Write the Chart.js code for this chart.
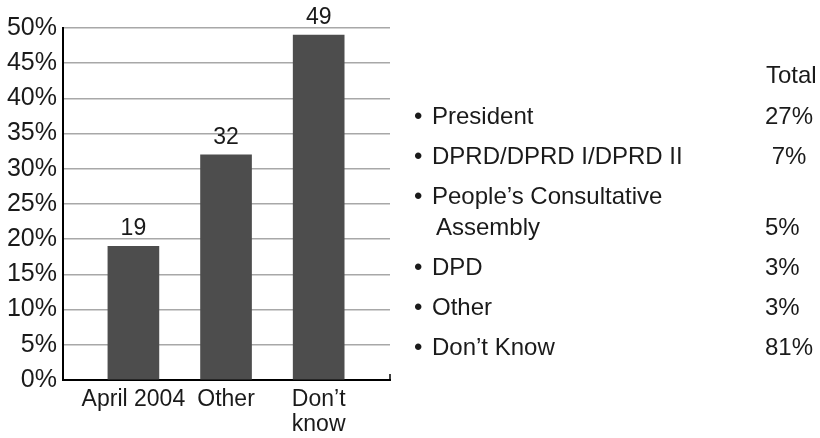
<!DOCTYPE html>
<html>
<head>
<meta charset="utf-8">
<script src="https://cdn.jsdelivr.net/npm/chart.js@4.4.1/dist/chart.umd.min.js"></script>
<style>
  html, body { margin: 0; padding: 0; background: #fff; }
  #wrap { position: relative; width: 820px; height: 438px; }
</style>
</head>
<body>
<div id="wrap"><canvas id="chart" width="820" height="438"></canvas></div>
<script>
// Data
const categories = ['April 2004', 'Other', ['Don\u2019t', 'know']];
const values = [19, 32, 49];
const listHeader = 'Total';
const listLabels = ['President', 'DPRD/DPRD I/DPRD II', 'People\u2019s Consultative', 'DPD', 'Other', 'Don\u2019t Know'];
const listSecondLine = ['', '', 'Assembly', '', '', ''];
const listValues = ['27%', ' 7%', '5%', '3%', '3%', '81%'];

const FONT = '"Liberation Sans", Arial, sans-serif';
const TEXT = '#1a1a1a';

// bar value labels + right-hand list
const extrasPlugin = {
    id: 'extras',
    afterDraw(chart) {
        const ctx = chart.ctx;
        const area = chart.chartArea;
        const meta = chart.getDatasetMeta(0);

        ctx.save();
        ctx.fillStyle = TEXT;
        ctx.font = '23px ' + FONT;
        ctx.textAlign = 'center';
        ctx.textBaseline = 'bottom';
        meta.data.forEach((bar, i) => {
            ctx.fillText(String(values[i]), bar.x, bar.y - 6);
        });

        // small tick at right end of x axis
        ctx.strokeStyle = '#000';
        ctx.lineWidth = 1.5;
        ctx.beginPath();
        ctx.moveTo(area.right, area.bottom);
        ctx.lineTo(area.right, area.bottom - 6);
        ctx.stroke();

        // list on the right
        ctx.textAlign = 'left';
        ctx.textBaseline = 'alphabetic';
        ctx.font = '24px ' + FONT;
        ctx.fillText(listHeader, 766, 83);
        const baselines = [124, 164, 204, 275, 315, 355];
        listLabels.forEach((lab, i) => {
            const y = baselines[i];
            ctx.fillText('\u2022', 414, y);
            ctx.fillText(lab, 432, y);
            let vy = y;
            if (listSecondLine[i]) {
                vy = y + 31;
                ctx.fillText(listSecondLine[i], 436, vy);
            }
            ctx.fillText(listValues[i], 765, vy);
        });
        ctx.restore();
    }
};

new Chart(document.getElementById('chart'), {
    type: 'bar',
    data: {
        datasets: [{
            data: values.map((v, i) => ({ x: i + 1, y: v })),
            backgroundColor: '#4d4d4d',
            barThickness: 51
        }]
    },
    options: {
        responsive: false,
        animation: false,
        layout: { padding: { top: 28, right: 430, bottom: 0, left: 0 } },
        plugins: { legend: { display: false }, tooltip: { enabled: false } },
        scales: {
            x: {
                type: 'linear',
                offset: false,
                min: 0.24,
                max: 3.77,
                afterBuildTicks: s => { s.ticks = categories.map((c, i) => ({ value: i + 1 })); },
                afterFit: s => { s.height = 58; },
                ticks: {
                    autoSkip: false,
                    maxRotation: 0,
                    padding: 8,
                    color: TEXT,
                    font: { family: FONT, size: 23, lineHeight: 1.05 },
                    callback: v => categories[v - 1]
                },
                grid: { display: false, drawTicks: false, offset: false },
                border: { color: '#000', width: 2 }
            },
            y: {
                min: 0,
                max: 50,
                afterFit: s => { s.width = 63; },
                ticks: {
                    stepSize: 5,
                    padding: 6,
                    color: TEXT,
                    font: { family: FONT, size: 25 },
                    callback: v => v + '%'
                },
                grid: { color: '#a8a8a8', lineWidth: 1.5, drawTicks: false },
                border: { color: '#000', width: 2 }
            }
        }
    },
    plugins: [extrasPlugin]
});
</script>
</body>
</html>
